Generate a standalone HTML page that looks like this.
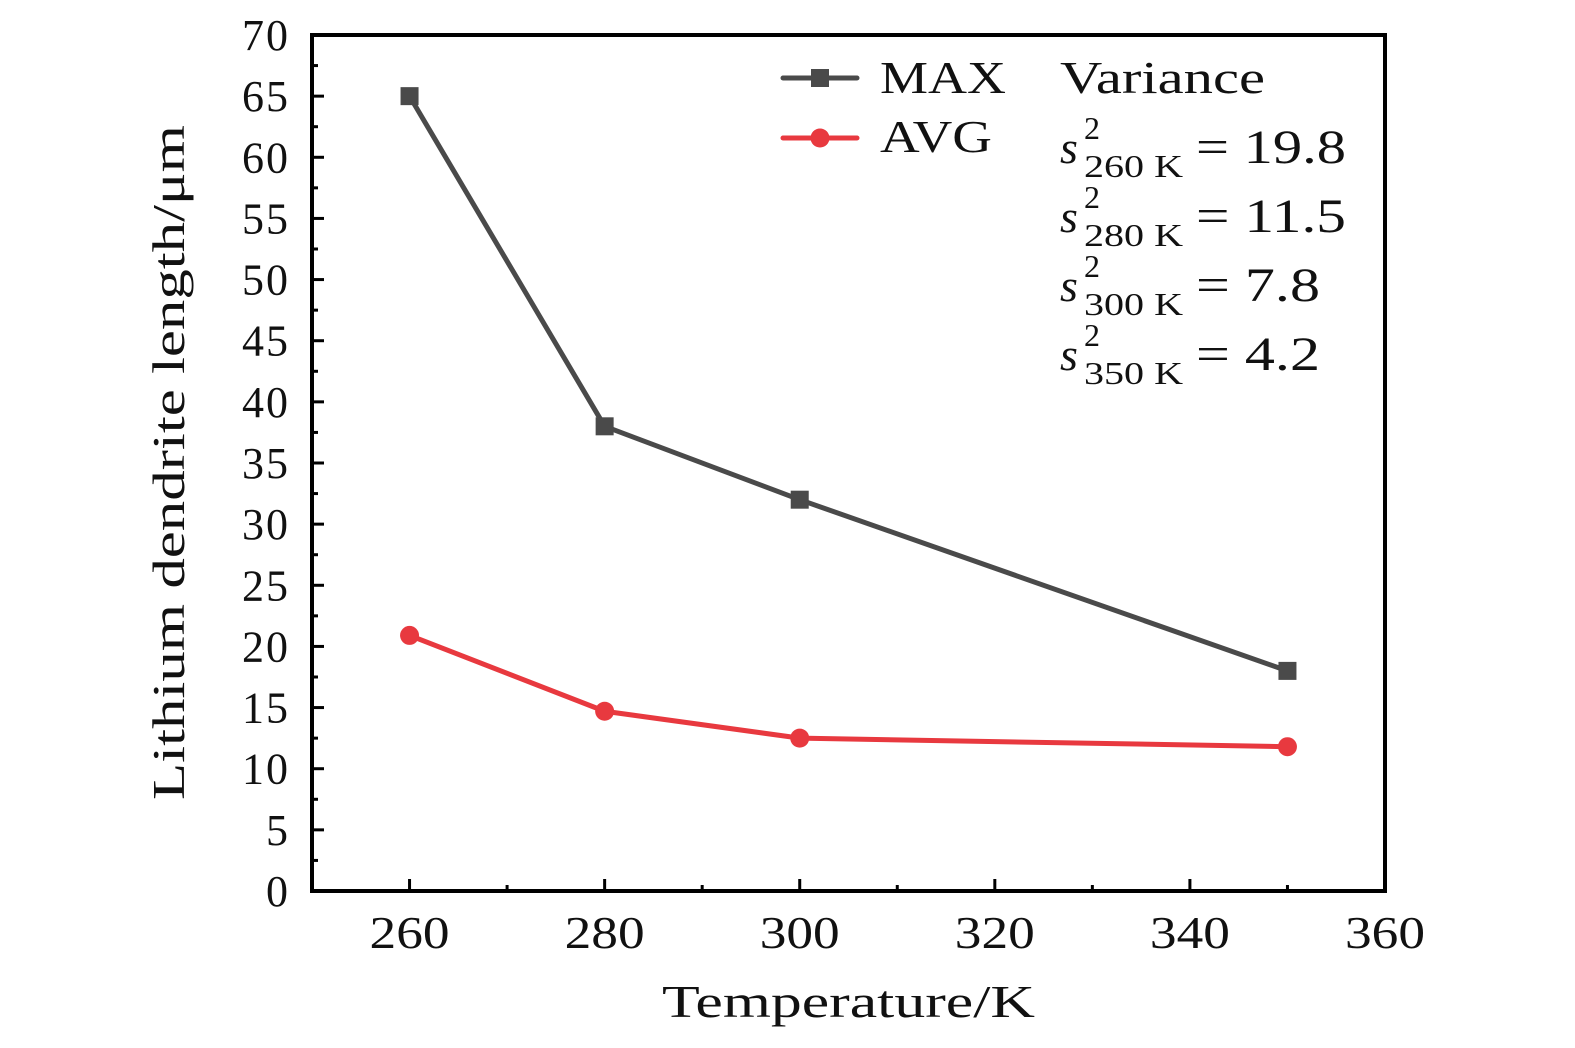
<!DOCTYPE html>
<html><head><meta charset="utf-8"><style>
body{margin:0;background:#fff}
svg text{font-family:"Liberation Serif",serif;fill:#111}
</style></head><body>
<svg width="1575" height="1043" viewBox="0 0 1575 1043" xmlns="http://www.w3.org/2000/svg">
<g id="plot"></g>
<text x="662" y="1017" font-size="46" textLength="373" lengthAdjust="spacingAndGlyphs">Temperature/K</text>
<text transform="translate(184,800) rotate(-90)" font-size="46" textLength="675" lengthAdjust="spacingAndGlyphs">Lithium dendrite length/μm</text>
<g>
<line x1="783" y1="78" x2="857" y2="78" stroke="#4a4a4a" stroke-width="5" stroke-linecap="round"/>
<rect x="811" y="69" width="18" height="18" fill="#4a4a4a"/>
<text x="880" y="93" font-size="46" textLength="126" lengthAdjust="spacingAndGlyphs">MAX</text>
<line x1="783" y1="138" x2="857" y2="138" stroke="#e8393f" stroke-width="5" stroke-linecap="round"/>
<circle cx="820" cy="138" r="9.5" fill="#e8393f"/>
<text x="880" y="152" font-size="46" textLength="112" lengthAdjust="spacingAndGlyphs">AVG</text>
</g>
<g font-size="46">
<text x="1060" y="93" textLength="205" lengthAdjust="spacingAndGlyphs">Variance</text>
<g id="var"></g>
</g>
</svg>
<script>
const temps=[260,280,300,350];
const maxVals=[65,38,32,18];
const avgVals=[20.9,14.7,12.5,11.8];
const xTicks=[260,280,300,320,340,360];
const yTicks=[0,5,10,15,20,25,30,35,40,45,50,55,60,65,70];
const varLabels=['260 K','280 K','300 K','350 K'];
const varValues=['19.8','11.5','7.8','4.2'];
const NS="http://www.w3.org/2000/svg";
const L=312,R=1385,T=35,B=891,X0=250,X1=360,Y0=0,Y1=70;
const sx=v=>L+(v-X0)/(X1-X0)*(R-L);
const sy=v=>B-(v-Y0)/(Y1-Y0)*(B-T);
const g=document.getElementById('plot');
function mk(tag,a,par){const e=document.createElementNS(NS,tag);for(const k in a)e.setAttribute(k,a[k]);(par||g).appendChild(e);return e;}
const vg=document.getElementById('var');
varLabels.forEach((lab,i)=>{const y=163+i*69;
const s=mk('text',{x:1060,y:y,'font-size':46,'font-style':'italic'},vg);s.textContent='s';
const sup=mk('text',{x:1084,y:y-24,'font-size':32},vg);sup.textContent='2';
const sub=mk('text',{x:1084,y:y+14,'font-size':32,textLength:99,lengthAdjust:'spacingAndGlyphs'},vg);sub.textContent=lab;
const v=mk('text',{x:1196,y:y,'font-size':48,textLength:(varValues[i].length===4?150:124),lengthAdjust:'spacingAndGlyphs'},vg);v.textContent='= '+varValues[i];


});
for(let v=Y0;v<=Y1;v+=2.5){const major=v%5===0;const e=mk('line',{x1:L,x2:L+(major?12:6),y1:sy(v),y2:sy(v),stroke:'#000','stroke-width':3});

}
yTicks.forEach(v=>{const t=mk('text',{x:L-22,y:sy(v)+15,'font-size':44,'text-anchor':'end','letter-spacing':2});t.textContent=v;

});
for(let v=260;v<=350;v+=10){const major=v%20===0;const e=mk('line',{x1:sx(v),x2:sx(v),y1:B,y2:B-(major?12:6),stroke:'#000','stroke-width':3});

}
xTicks.forEach(v=>{const t=mk('text',{x:sx(v)-40,y:B+57,'font-size':46,textLength:80,lengthAdjust:'spacingAndGlyphs'});t.textContent=v;

});
function series(vals,color,marker,name){
const p=mk('polyline',{points:temps.map((t,i)=>sx(t)+','+sy(vals[i])).join(' '),fill:'none',stroke:color,'stroke-width':5,'stroke-linejoin':'round'});


temps.forEach((t,i)=>{let m;
if(marker==='sq')m=mk('rect',{x:sx(t)-9,y:sy(vals[i])-9,width:18,height:18,fill:color});
else m=mk('circle',{cx:sx(t),cy:sy(vals[i]),r:9.5,fill:color});

});
}
series(maxVals,'#4a4a4a','sq','max');
series(avgVals,'#e8393f','ci','avg');
const f=mk('rect',{x:L,y:T,width:R-L,height:B-T,fill:'none',stroke:'#000','stroke-width':4});


</script>
</body></html>
